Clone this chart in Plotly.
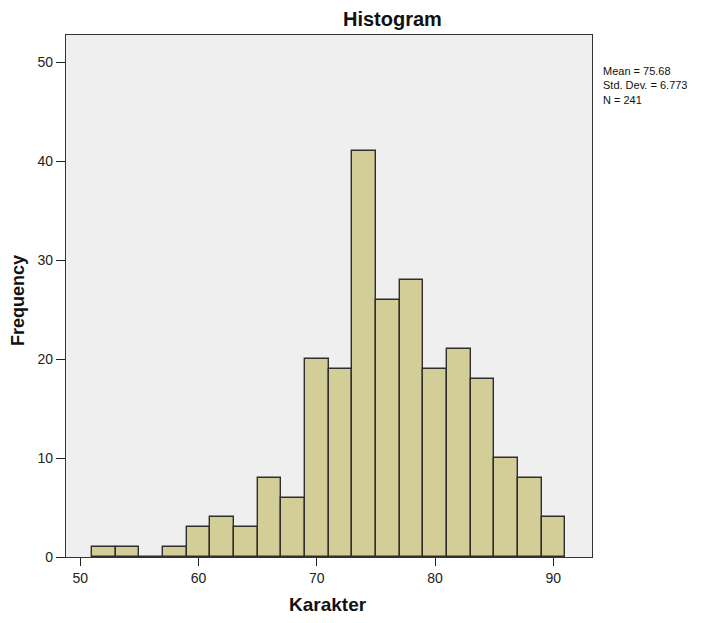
import plotly.graph_objects as go

bin_starts = [51, 53, 55, 57, 59, 61, 63, 65, 67, 69, 71, 73, 75, 77, 79, 81, 83, 85, 87, 89]
bin_width = 2
counts = [1, 1, 0, 1, 3, 4, 3, 8, 6, 20, 19, 41, 26, 28, 19, 21, 18, 10, 8, 4]
x_ticks = [50, 60, 70, 80, 90]
y_ticks = [0, 10, 20, 30, 40, 50]
stats_lines = ["Mean = 75.68", "Std. Dev. = 6.773", "N = 241"]

centers = [s + bin_width / 2 for s in bin_starts]

W, H = 713, 623
OFF = 8  # page body margin offset
L, R, T, B = 58, 584, 27, 549  # plot box in figure px


def px(xs):
    return (xs - OFF - L) / (R - L)


def py(ys):
    return (B - (ys - OFF)) / (B - T)


fig = go.Figure()
fig.add_trace(go.Bar(
    x=centers, y=counts, width=[bin_width] * len(counts),
    marker=dict(color="#D3CE98", line=dict(color="#2e2e2e", width=1.4)),
    showlegend=False,
))

font_family = "Liberation Sans, Arial, sans-serif"
annotations = [
    dict(text="<b>Histogram</b>", x=px(392), y=py(19), font=dict(size=20, color="#111"),
         xanchor="center", yanchor="middle"),
    dict(text="<b>Karakter</b>", x=px(328), y=py(605), font=dict(size=19, color="#111"),
         xanchor="center", yanchor="middle"),
    dict(text="<b>Frequency</b>", x=px(18), y=py(301), font=dict(size=18, color="#111"),
         xanchor="center", yanchor="middle", textangle=-90),
    dict(text="<br>".join(stats_lines), x=px(601), y=py(63), align="left",
         font=dict(size=11, color="#111"), xanchor="left", yanchor="top"),
]
for a in annotations:
    a.update(xref="paper", yref="paper", showarrow=False)

fig.update_layout(
    width=W, height=H,
    margin=dict(l=L, r=W - R, t=T, b=H - B),
    paper_bgcolor="white",
    plot_bgcolor="#EFEFEF",
    font=dict(family=font_family, size=14, color="#222"),
    bargap=0,
    annotations=annotations,
)
fig.update_xaxes(
    range=[48.79, 93.27], tickvals=x_ticks, ticks="outside", ticklen=8, tickwidth=1.3,
    tickcolor="#222", showgrid=False, zeroline=False, showline=True, linecolor="#333",
    linewidth=1.3, mirror=True, tickfont=dict(size=14),
)
fig.update_yaxes(
    range=[0, 52.76], tickvals=y_ticks, ticks="outside", ticklen=9, tickwidth=1.3,
    tickcolor="#222", showgrid=False, zeroline=False, showline=True, linecolor="#333",
    linewidth=1.3, mirror=True, tickfont=dict(size=14),
)

fig.write_html("out.html")
